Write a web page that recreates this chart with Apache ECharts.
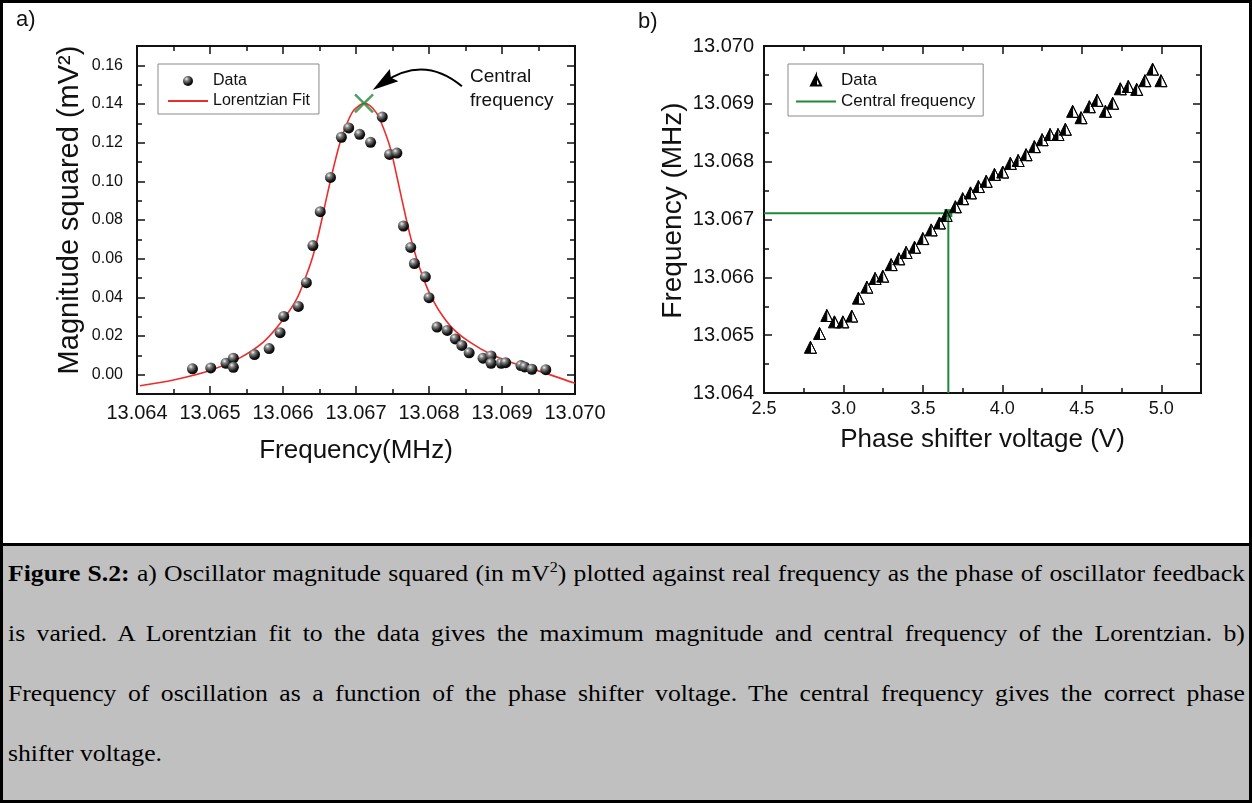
<!doctype html>
<html lang="en">
  <head>
    <meta charset="UTF-8" />
    <title>Figure S.2</title>
    <style>
      html,
      body {
        width: 1252px;
        height: 803px;
        margin: 0;
        padding: 0;
        overflow: hidden;
        background: #fff;
      }
      #Echart {
        position: absolute;
        left: 0;
        top: 0;
        width: 1252px;
        height: 544px;
      }
      #frame {
        position: absolute;
        left: 0;
        top: 0;
        width: 1252px;
        height: 803px;
        box-sizing: border-box;
        border: 3px solid #000;
        pointer-events: none;
      }
      #caption {
        position: absolute;
        left: 0;
        top: 543px;
        width: 1252px;
        height: 260px;
        background: #c0c0c0;
        border-top: 3px solid #000;
        box-sizing: border-box;
        overflow: hidden;
      }
      #caption .txt {
        position: absolute;
        left: 8px;
        top: -3px;
        width: 1156px;
        transform: scaleX(1.07);
        transform-origin: 0 0;
        font-family: 'Liberation Serif', 'Times New Roman', serif;
        font-size: 24px;
        line-height: 60px;
        color: #000;
      }
      #caption .j {
        white-space: nowrap;
        text-align: justify;
        text-align-last: justify;
      }
      #caption .l {
        white-space: nowrap;
      }
    </style>
  </head>

  <body>
    <div id="Echart"></div>
    <div id="caption">
      <div class="txt">
        <div class="j"><b>Figure S.2:</b> a) Oscillator magnitude squared (in mV<sup style="font-size:15px;line-height:0">2</sup>) plotted against real frequency as the phase of oscillator feedback</div>
        <div class="j">is varied. A Lorentzian fit to the data gives the maximum magnitude and central frequency of the Lorentzian. b)</div>
        <div class="j">Frequency of oscillation as a function of the phase shifter voltage. The central frequency gives the correct phase</div>
        <div class="l">shifter voltage.</div>
      </div>
    </div>
    <div id="frame"></div>
    <script type="text/javascript" src="https://cdn.jsdelivr.net/npm/echarts@6/dist/echarts.min.js"></script>
    <script type="text/javascript">
      // a) magnitude squared vs frequency
      const magFreq = [
        13.06476, 13.06501, 13.06522, 13.06532, 13.06532, 13.06561, 13.06581, 13.06596, 13.06601, 13.06621,
        13.06632, 13.06641, 13.06651, 13.06665, 13.0668, 13.0669, 13.06705, 13.0672, 13.06736, 13.06746,
        13.06756, 13.06765, 13.06775, 13.0678, 13.06795, 13.068, 13.06811, 13.06825, 13.06836, 13.06845,
        13.06855, 13.06874, 13.06885, 13.06885, 13.06899, 13.06905, 13.06926, 13.06931, 13.06941, 13.0696,
      ]
      const magVals = [
        0.003, 0.0035, 0.0059, 0.0085, 0.0038, 0.0104, 0.0135, 0.0217, 0.0301, 0.0353,
        0.0476, 0.0668, 0.0843, 0.102, 0.1228, 0.1276, 0.1243, 0.1202, 0.1333, 0.1139,
        0.1146, 0.0769, 0.0658, 0.0575, 0.0506, 0.0398, 0.0246, 0.0229, 0.0185, 0.0151,
        0.0113, 0.0085, 0.0097, 0.0059, 0.0059, 0.0062, 0.0047, 0.004, 0.0028, 0.0026,
      ]
      // Lorentzian fit
      const fitFreq = [
        13.06404, 13.0645, 13.065, 13.06541, 13.06573, 13.066, 13.06619, 13.06632, 13.06642, 13.06651,
        13.0666, 13.06669, 13.06678, 13.06687, 13.06696, 13.06706, 13.06711, 13.06719, 13.06728, 13.06737,
        13.06747, 13.06756, 13.06765, 13.06774, 13.06783, 13.06792, 13.06801, 13.06815, 13.06833, 13.06856,
        13.06884, 13.06916, 13.06952, 13.07,
      ]
      const fitVals = [
        -0.0057, -0.0028, 0.0021, 0.0087, 0.0168, 0.0284, 0.0393, 0.0514, 0.0627, 0.0765,
        0.0921, 0.1068, 0.1198, 0.1294, 0.1363, 0.1396, 0.1403, 0.1392, 0.1354, 0.1281,
        0.1172, 0.1025, 0.0869, 0.0722, 0.0601, 0.0502, 0.0419, 0.0324, 0.0237, 0.0168,
        0.0107, 0.0059, 0.0017, -0.0045,
      ]
      const centralFreq = 13.06711
      const peakMag = 0.1403
      const arrowTail = [13.06845, 0.1492]
      const arrowEnd = [13.067375, 0.1511]

      // b) frequency vs phase shifter voltage
      const phaseVolt = [
        2.792, 2.849, 2.895, 2.943, 2.996, 3.052, 3.094, 3.147, 3.199, 3.247,
        3.3, 3.348, 3.394, 3.447, 3.499, 3.552, 3.604, 3.646, 3.704, 3.75,
        3.799, 3.849, 3.898, 3.95, 4.002, 4.05, 4.099, 4.149, 4.201, 4.25,
        4.3, 4.35, 4.396, 4.442, 4.495, 4.547, 4.596, 4.648, 4.694, 4.742,
        4.792, 4.845, 4.897, 4.945, 4.998,
      ]
      const phaseFreq = [
        13.06479, 13.06503, 13.06534, 13.06523, 13.06523, 13.06533, 13.06564, 13.06583, 13.06598, 13.06602,
        13.06622, 13.06632, 13.06643, 13.06652, 13.06667, 13.06682, 13.06694, 13.06707, 13.06722, 13.06736,
        13.06746, 13.06757, 13.06766, 13.06778, 13.06782, 13.06797, 13.06802, 13.06812, 13.06826, 13.06838,
        13.06847, 13.06847, 13.06856, 13.06887, 13.06876, 13.06895, 13.06906, 13.06887, 13.06901, 13.06926,
        13.0693, 13.06925, 13.0694, 13.0696, 13.0694,
      ]
      const centralVolt = 3.66

      // axis ticks
      const freqTicks = [13.064, 13.065, 13.066, 13.067, 13.068, 13.069, 13.07]
      const freqMinor = [13.0645, 13.0655, 13.0665, 13.0675, 13.0685, 13.0695]
      const magTicks = [0, 0.02, 0.04, 0.06, 0.08, 0.1, 0.12, 0.14, 0.16]
      const magMinor = [0.01, 0.03, 0.05, 0.07, 0.09, 0.11, 0.13, 0.15]
      const voltTicks = [2.5, 3, 3.5, 4, 4.5, 5]
      const voltMinor = [2.75, 3.25, 3.75, 4.25, 4.75]

      const FONT = 'Liberation Sans, Arial, sans-serif'
      const GREEN = '#21883b'
      const RED = '#ee2c2c'

      // one axis that only draws inward ticks (frame ticks)
      function tickAxis(gridIndex, position, min, max, values, len, extra) {
        return Object.assign(
          {
            type: 'value',
            gridIndex: gridIndex,
            position: position,
            min: min,
            max: max,
            axisLine: { show: false, onZero: false },
            splitLine: { show: false },
            axisTick: {
              show: true,
              inside: true,
              length: len,
              customValues: values,
              lineStyle: { color: '#111', width: 1.5 },
            },
            axisLabel: { show: false },
          },
          extra || {}
        )
      }

      function labelAxis(gridIndex, position, min, max, values, fontSize, margin, digits, name, nameStyle, nameGap) {
        return tickAxis(gridIndex, position, min, max, values, 8, {
          axisLabel: {
            show: true,
            customValues: values,
            fontSize: fontSize,
            fontFamily: FONT,
            color: '#111',
            margin: margin,
            formatter: (v) => Number(v).toFixed(digits),
          },
          name: name,
          nameLocation: 'middle',
          nameGap: nameGap,
          nameTextStyle: Object.assign({ fontFamily: FONT, color: '#111' }, nameStyle),
        })
      }

      const sphere = new echarts.graphic.RadialGradient(0.35, 0.3, 0.75, [
        { offset: 0, color: '#f4f4f4' },
        { offset: 0.25, color: '#8a8a8a' },
        { offset: 0.7, color: '#1a1a1a' },
        { offset: 1, color: '#000' },
      ])
      // left half filled black, right half only outlined
      const halfTriangle = 'path://M5,0L0,10L5,10Z M5,0L10,10L5,10L10,10Z'
      const arrowHead = 'path://M5,0L10,20L5,17L0,20Z'

      let chart = null
      function initEchart() {
        chart = echarts.init(document.getElementById('Echart'))
        const option = {
          animation: false,
          textStyle: { fontFamily: FONT },
          title: [
            { text: 'a)', left: 16, top: 9, padding: 0, textStyle: { fontSize: 22, fontWeight: 'normal', color: '#111', fontFamily: FONT } },
            { text: 'b)', left: 638, top: 11, padding: 0, textStyle: { fontSize: 22, fontWeight: 'normal', color: '#111', fontFamily: FONT } },
          ],
          grid: [
            { left: 137, top: 46, width: 438, height: 348, show: true, borderColor: '#111', borderWidth: 2 },
            { left: 764, top: 46, width: 437, height: 347, show: true, borderColor: '#111', borderWidth: 2 },
          ],
          legend: [
            {
              data: ['Data', { name: 'Lorentzian Fit', itemStyle: { opacity: 0 } }],
              orient: 'vertical',
              left: 158,
              top: 64,
              itemWidth: 40,
              itemHeight: 10,
              itemGap: 4,
              padding: [9, 9, 5, 9],
              borderColor: '#8a8a8a',
              borderWidth: 1,
              textStyle: { fontSize: 16, color: '#111', fontFamily: FONT },
            },
            {
              data: ['Data b', { name: 'Central frequency', itemStyle: { opacity: 0 } }],
              orient: 'vertical',
              left: 788,
              top: 64,
              itemWidth: 40,
              itemHeight: 10,
              itemGap: 4,
              padding: [8, 8, 6, 7],
              borderColor: '#8a8a8a',
              borderWidth: 1,
              formatter: (n) => (n === 'Data b' ? 'Data' : n),
              textStyle: { fontSize: 17, color: '#111', fontFamily: FONT },
            },
          ],
          xAxis: [
            labelAxis(0, 'bottom', 13.064, 13.07, freqTicks, 20, 9, 3, 'Frequency(MHz)', { fontSize: 26 }, 44),
            tickAxis(0, 'bottom', 13.064, 13.07, freqMinor, 5),
            tickAxis(0, 'top', 13.064, 13.07, freqTicks, 8),
            tickAxis(0, 'top', 13.064, 13.07, freqMinor, 5),
            labelAxis(1, 'bottom', 2.5, 5.25, voltTicks, 18, 7, 1, 'Phase shifter voltage (V)', { fontSize: 26 }, 34),
            tickAxis(1, 'bottom', 2.5, 5.25, voltMinor, 5),
            tickAxis(1, 'top', 2.5, 5.25, voltTicks, 8),
            tickAxis(1, 'top', 2.5, 5.25, voltMinor, 5),
          ],
          yAxis: [
            labelAxis(0, 'left', -0.01, 0.17, magTicks, 16, 14, 2, 'Magnitude squared (mV²)', { fontSize: 29, padding: [0, 0, 0, 20] }, 53),
            tickAxis(0, 'left', -0.01, 0.17, magMinor, 5),
            tickAxis(0, 'right', -0.01, 0.17, magTicks, 8),
            tickAxis(0, 'right', -0.01, 0.17, magMinor, 5),
            labelAxis(1, 'left', 13.064, 13.07, freqTicks, 20, 10, 3, 'Frequency (MHz)', { fontSize: 28, padding: [0, 0, 0, 18] }, 77),
            tickAxis(1, 'left', 13.064, 13.07, freqMinor, 5),
            tickAxis(1, 'right', 13.064, 13.07, freqTicks, 8),
            tickAxis(1, 'right', 13.064, 13.07, freqMinor, 5),
          ],
          series: [
            {
              name: 'Lorentzian Fit',
              type: 'line',
              xAxisIndex: 0,
              yAxisIndex: 0,
              data: fitFreq.map((f, i) => [f, fitVals[i]]),
              smooth: 0.3,
              symbol: 'none',
              lineStyle: { color: RED, width: 1.6 },
              itemStyle: { color: RED },
              z: 3,
            },
            {
              name: 'Data',
              type: 'scatter',
              xAxisIndex: 0,
              yAxisIndex: 0,
              data: magFreq.map((f, i) => [f, magVals[i]]),
              symbolSize: 11,
              itemStyle: { color: sphere, opacity: 1 },
              z: 4,
            },
            {
              name: 'central',
              type: 'scatter',
              xAxisIndex: 0,
              yAxisIndex: 0,
              data: [[centralFreq, peakMag]],
              symbol: 'path://M0,0L10,10M10,0L0,10',
              symbolSize: 18,
              itemStyle: { color: 'none', borderColor: GREEN, borderWidth: 2.5 },
              z: 5,
            },
            {
              name: 'arrow',
              type: 'lines',
              coordinateSystem: 'cartesian2d',
              xAxisIndex: 0,
              yAxisIndex: 0,
              silent: true,
              symbol: ['none', arrowHead],
              symbolSize: [1, [15, 26]],
              lineStyle: { color: '#000', width: 2, opacity: 1, curveness: -0.38 },
              data: [{ coords: [arrowTail, arrowEnd] }],
              z: 6,
            },
            {
              name: 'Central frequency',
              type: 'line',
              xAxisIndex: 4,
              yAxisIndex: 4,
              data: [
                [2.5, centralFreq],
                { value: [centralVolt, centralFreq], symbol: 'rect', symbolSize: 8 },
                [centralVolt, 13.064],
              ],
              symbol: 'none',
              showSymbol: true,
              lineStyle: { color: GREEN, width: 2 },
              itemStyle: { color: GREEN },
              z: 3,
            },
            {
              name: 'Data b',
              type: 'scatter',
              xAxisIndex: 4,
              yAxisIndex: 4,
              data: phaseVolt.map((v, i) => [v, phaseFreq[i]]),
              symbol: halfTriangle,
              symbolSize: [12, 12],
              itemStyle: { color: '#000', borderColor: '#000', borderWidth: 1, opacity: 1 },
              z: 4,
            },
          ],
          graphic: [
            {
              type: 'text',
              left: 470,
              top: 65,
              style: {
                text: 'Central\nfrequency',
                font: '19px ' + FONT,
                lineHeight: 24,
                fill: '#111',
              },
            },
          ],
        }
        chart.setOption(option)
      }
      window.onload = function () {
        initEchart()
      }
    </script>
  </body>
</html>
